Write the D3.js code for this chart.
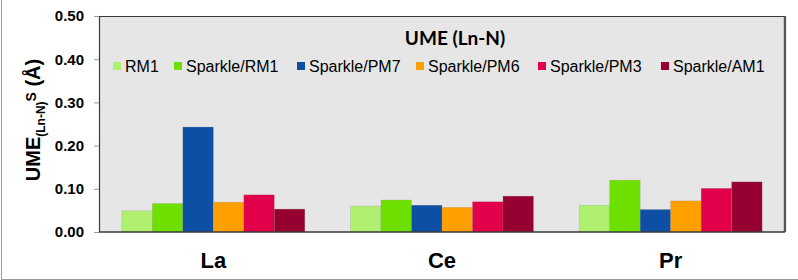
<!DOCTYPE html>
<html><head><meta charset="utf-8">
<script src="https://cdn.jsdelivr.net/npm/d3@7"></script>
<style>body{margin:0;background:#fff}svg{display:block}</style>
</head><body>
<script>
const categories = ["La", "Ce", "Pr"];
const seriesNames = ["RM1", "Sparkle/RM1", "Sparkle/PM7", "Sparkle/PM6", "Sparkle/PM3", "Sparkle/AM1"];
const RM1 = [0.049, 0.060, 0.062];
const SparkleRM1 = [0.066, 0.074, 0.120];
const SparklePM7 = [0.243, 0.062, 0.052];
const SparklePM6 = [0.069, 0.057, 0.072];
const SparklePM3 = [0.086, 0.070, 0.101];
const SparkleAM1 = [0.053, 0.083, 0.116];
const yTicks = [0, 0.1, 0.2, 0.3, 0.4, 0.5];
const colors = ["#b0f070", "#6ee000", "#0e4fa6", "#ff9f00", "#e2004b", "#960030"];
const seriesValues = [RM1, SparkleRM1, SparklePM7, SparklePM6, SparklePM3, SparkleAM1];

const W = 798, H = 280;
const m = {left: 99, top: 16, right: 13, bottom: 48};
const pw = W - m.left - m.right, ph = H - m.top - m.bottom;

const svg = d3.select("body").append("svg").attr("width", W).attr("height", H);
// outer frame (left + bottom visible)
svg.append("line").attr("x1", 1.5).attr("x2", 1.5).attr("y1", 0).attr("y2", 279.5).attr("stroke", "#9a9a9a").attr("stroke-width", 1);
svg.append("line").attr("x1", 1).attr("x2", W).attr("y1", 279.5).attr("y2", 279.5).attr("stroke", "#9a9a9a").attr("stroke-width", 1);

const g = svg.append("g").attr("transform", `translate(${m.left},${m.top})`);
const x = d3.scaleBand().domain(categories).range([0, pw]).paddingInner(0.2).paddingOuter(0.1);
const xs = d3.scaleBand().domain(seriesNames).range([0, x.bandwidth()]);
const y = d3.scaleLinear().domain([0, 0.5]).range([ph, 0]);

// plot background
g.append("rect").attr("x", 0).attr("y", 0).attr("width", pw).attr("height", ph).attr("fill", "#e6e6e6");

// bars
seriesNames.forEach((s, i) => {
  g.append("g").selectAll("rect").data(seriesValues[i]).join("rect")
    .attr("x", (d, j) => x(categories[j]) + xs(s))
    .attr("y", d => y(d))
    .attr("width", xs.bandwidth())
    .attr("height", d => ph - y(d))
    .attr("fill", colors[i])
    .attr("stroke", "#888").attr("stroke-opacity", 0.35).attr("stroke-width", 0.6);
});

// plot border
g.append("path").attr("d", `M0.5,${ph} V0.5 H${pw - 0.5} V${ph}`).attr("fill", "none").attr("stroke", "#3a3a3a").attr("stroke-width", 1.2);
g.append("line").attr("x1", pw).attr("x2", pw).attr("y1", 0).attr("y2", ph).attr("stroke", "#555").attr("stroke-width", 2.2);
g.append("line").attr("x1", 0).attr("x2", pw).attr("y1", ph).attr("y2", ph).attr("stroke", "#3a3a3a").attr("stroke-width", 1.4);

// y axis
const yAxis = d3.axisLeft(y).tickValues(yTicks).tickFormat(d3.format(".2f")).tickSize(5).tickPadding(10);
const ya = g.append("g").call(yAxis);
ya.select(".domain").remove();
ya.selectAll(".tick line").attr("stroke", "#9a9a9a");
ya.selectAll(".tick text").attr("font-family", "Liberation Sans, Arial, sans-serif").attr("font-weight", "bold").attr("font-size", 15).attr("fill", "#000");

// x axis labels
const xa = g.append("g").attr("transform", `translate(0,${ph})`).call(d3.axisBottom(x).tickSize(0).tickPadding(20));
xa.select(".domain").remove();
xa.selectAll(".tick text").attr("font-family", "Liberation Sans, Arial, sans-serif").attr("font-weight", "bold").attr("font-size", 22).attr("fill", "#000");

// title
svg.append("text").attr("x", 455).attr("y", 45).attr("text-anchor", "middle")
  .attr("font-family", "Lato, 'Open Sans', sans-serif").attr("font-weight", "bold").attr("font-size", 19).attr("fill", "#000")
  .text("UME (Ln-N)");

// legend
const legX = [113, 174, 297, 416, 538, 661];
const leg = svg.append("g").attr("font-family", "Liberation Sans, Arial, sans-serif").attr("font-size", 16);
seriesNames.forEach((s, i) => {
  leg.append("rect").attr("x", legX[i]).attr("y", 62).attr("width", 8).attr("height", 8).attr("fill", colors[i]);
  leg.append("text").attr("x", legX[i] + 12).attr("y", 72).attr("fill", "#000").text(s);
});

// y label
const yl = svg.append("text").attr("transform", "translate(40,120) rotate(-90)").attr("text-anchor", "middle")
  .attr("font-family", "Liberation Sans, Arial, sans-serif").attr("font-weight", "bold").attr("font-size", 20).attr("fill", "#000");
yl.append("tspan").text("UME");
yl.append("tspan").attr("font-size", 12).attr("dy", 5).text("(Ln-N)");
yl.append("tspan").attr("font-size", 14).attr("dy", -9).text("S");
yl.append("tspan").attr("dy", 4).text(" (Å)");
</script>
</body></html>
